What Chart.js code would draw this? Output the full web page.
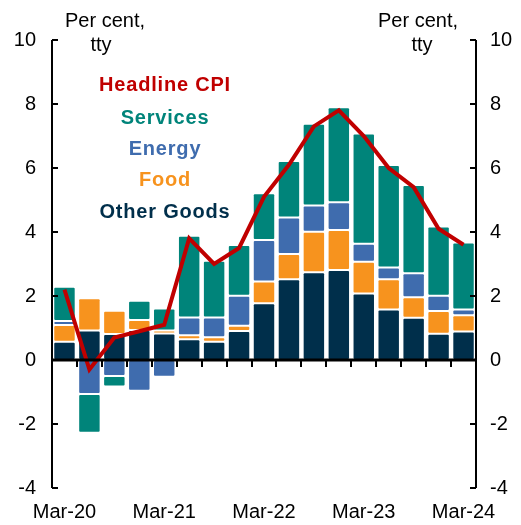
<!DOCTYPE html>
<html>
<head>
<meta charset="utf-8">
<script src="https://cdn.jsdelivr.net/npm/chart.js@4"></script>
<style>
  html, body { margin: 0; padding: 0; background: #fff; }
  #wrap { width: 521px; height: 525px; }
</style>
</head>
<body>
<div id="wrap"><canvas id="cpiChart" width="521" height="525"></canvas></div>
<script>
const quarters = [
  "Mar-20", "Jun-20", "Sep-20", "Dec-20",
  "Mar-21", "Jun-21", "Sep-21", "Dec-21",
  "Mar-22", "Jun-22", "Sep-22", "Dec-22",
  "Mar-23", "Jun-23", "Sep-23", "Dec-23",
  "Mar-24",
];
const otherGoods = [0.57, 0.92, 0.81, 0.94, 0.83, 0.65, 0.57, 0.91, 1.77, 2.52, 2.74, 2.81, 2.08, 1.58, 1.32, 0.82, 0.89];
const food = [0.52, 1.01, 0.73, 0.31, 0.09, 0.12, 0.14, 0.16, 0.68, 0.79, 1.27, 1.25, 0.99, 0.94, 0.64, 0.71, 0.51];
const energy = [0.13, -1.06, -0.5, -0.96, -0.52, 0.56, 0.62, 0.94, 1.3, 1.14, 0.82, 0.87, 0.56, 0.37, 0.75, 0.48, 0.18];
const services = [1.07, -1.21, -0.33, 0.6, 0.69, 2.55, 1.77, 1.58, 1.46, 1.77, 2.55, 2.97, 3.45, 3.2, 2.76, 2.16, 2.09];
const headlineCpi = [2.2, -0.3, 0.7, 0.9, 1.1, 3.8, 3.0, 3.5, 5.1, 6.1, 7.3, 7.8, 7.0, 6.0, 5.4, 4.1, 3.6];
const yTicks = [10, 8, 6, 4, 2, 0, -2, -4];
const shownLabels = ["Mar-20", "Mar-21", "Mar-22", "Mar-23", "Mar-24"];

const colours = {
  other: "#002f4b",
  food: "#f7931e",
  energy: "#3f6cae",
  services: "#00847a",
  cpi: "#c00000",
};

const font = "Liberation Sans, Arial, sans-serif";

function barSet(label, data, colour) {
  return {
    type: "bar",
    label: label,
    data: data,
    backgroundColor: colour,
    borderColor: "#ffffff",
    borderWidth: 1,
    borderSkipped: false,
    borderRadius: { topLeft: 2, topRight: 2, bottomLeft: 2, bottomRight: 2 },
    barPercentage: 0.9,
    categoryPercentage: 1,
    stack: "parts",
    order: 1,
  };
}

// axis lines, inward ticks, zero line, unit labels and the text legend
const decorations = {
  id: "decorations",
  afterDatasetsDraw(chart) {
    const c = chart.ctx;
    const area = chart.chartArea;
    const y = chart.scales.y;
    const x = chart.scales.x;
    c.save();
    c.strokeStyle = "#000";
    c.lineWidth = 2;
    c.beginPath();
    c.moveTo(area.left, area.top);
    c.lineTo(area.left, area.bottom);
    c.moveTo(area.right, area.top);
    c.lineTo(area.right, area.bottom);
    yTicks.forEach(function (t) {
      const py = Math.round(y.getPixelForValue(t));
      c.moveTo(area.left, py);
      c.lineTo(area.left + 6, py);
      c.moveTo(area.right, py);
      c.lineTo(area.right - 6, py);
    });
    c.stroke();

    const zero = y.getPixelForValue(0);
    c.lineWidth = 3;
    c.beginPath();
    c.moveTo(area.left, zero);
    c.lineTo(area.right, zero);
    c.stroke();
    c.lineWidth = 2;
    c.beginPath();
    const step = (area.right - area.left) / quarters.length;
    for (let i = 1; i < quarters.length; i++) {
      const px = Math.round(area.left + i * step);
      c.moveTo(px, zero);
      c.lineTo(px, zero + 7);
    }
    c.stroke();

    c.fillStyle = "#000";
    c.font = "20px " + font;
    c.textAlign = "center";
    c.textBaseline = "middle";
    c.fillText("Per cent,", 105, 21);
    c.fillText("tty", 101, 45);
    c.fillText("Per cent,", 418, 21);
    c.fillText("tty", 422, 45);

    const legend = [
      ["Headline CPI", colours.cpi, 85],
      ["Services", colours.services, 118],
      ["Energy", colours.energy, 149],
      ["Food", colours.food, 180],
      ["Other Goods", colours.other, 212],
    ];
    c.font = "bold 20px " + font;
    c.letterSpacing = "0.8px";
    legend.forEach(function (l) {
      c.fillStyle = l[1];
      c.fillText(l[0], 165, l[2]);
    });
    c.restore();
  },
};

const ctx = document.getElementById("cpiChart").getContext("2d");
const cpiChart = new Chart(ctx, {
  data: {
    labels: quarters,
    datasets: [
      {
        type: "line",
        label: "Headline CPI",
        data: headlineCpi,
        borderColor: colours.cpi,
        borderWidth: 4,
        pointRadius: 0,
        tension: 0,
        fill: false,
        stack: "cpi",
        order: 0,
      },
      barSet("Other Goods", otherGoods, colours.other),
      barSet("Food", food, colours.food),
      barSet("Energy", energy, colours.energy),
      barSet("Services", services, colours.services),
    ],
  },
  plugins: [decorations],
  options: {
    responsive: false,
    animation: false,
    layout: { padding: { top: 40, left: 0, right: 0, bottom: 0 } },
    plugins: {
      legend: { display: false },
      tooltip: { enabled: false },
    },
    scales: {
      x: {
        stacked: true,
        grid: { display: false, drawTicks: false },
        border: { display: false },
        ticks: {
          autoSkip: false,
          maxRotation: 0,
          padding: 12,
          color: "#000",
          font: { family: font, size: 20 },
          callback: function (v, i) {
            const l = quarters[i];
            return shownLabels.includes(l) ? l : "";
          },
        },
        afterFit: function (s) { s.height = 37; },
      },
      y: {
        stacked: true,
        position: "left",
        min: -4,
        max: 10,
        grid: { display: false, drawTicks: false },
        border: { display: false },
        ticks: {
          stepSize: 2,
          padding: 16,
          color: "#000",
          font: { family: font, size: 20 },
        },
        afterFit: function (s) { s.width = 52; },
      },
      y2: {
        position: "right",
        min: -4,
        max: 10,
        grid: { display: false, drawTicks: false },
        border: { display: false },
        ticks: {
          stepSize: 2,
          padding: 14,
          color: "#000",
          font: { family: font, size: 20 },
        },
        afterFit: function (s) { s.width = 45; },
      },
    },
  },
});
</script>
</body>
</html>
